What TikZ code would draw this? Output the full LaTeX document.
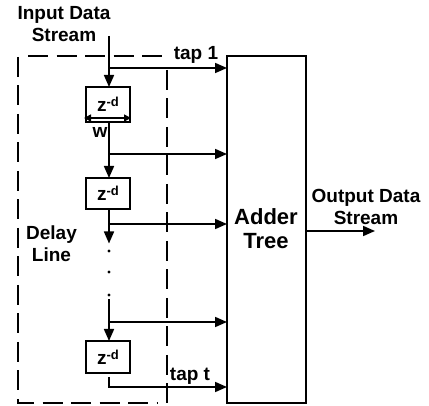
\documentclass[tikz,border=0pt]{standalone}
\usepackage{fontspec}
\setmainfont{Liberation Sans}
\usetikzlibrary{arrows.meta}
\begin{document}
\begin{tikzpicture}[x=1pt,y=-1pt,
  txt/.style={inner sep=0pt,font=\fontsize{19}{22}\selectfont\bfseries,align=center},
  big/.style={inner sep=0pt,font=\fontsize{22}{24}\selectfont\bfseries,align=center},
  zbox/.style={draw,line width=1.7pt,minimum width=44pt,inner sep=0pt,font=\fontsize{19}{19}\selectfont\bfseries},
  arr/.style={line width=1.7pt,-{Triangle[length=12pt,width=10pt]}},
  dashline/.style={line width=1.7pt,dash pattern=on 20pt off 8.5pt}]
\useasboundingbox (0,0) rectangle (429,406);
% dashed delay-line frame
\draw[dashline] (28,56) -- (167,56);
\draw[dashline] (18,57) -- (18,403) -- (158,403);
\draw[dashline] (167,70) -- (167,403);
% adder
\node[draw,line width=2pt,minimum width=79pt,minimum height=347pt,inner sep=0pt] (adder) at (266.5,229.5) {};
\node[big] (addertxt) at (266,229) {Adder\\Tree};
% delay boxes
\node[zbox,minimum height=35pt] (z1) at (108,104.5) {z\raisebox{5pt}{\fontsize{13}{13}\selectfont -d}};
\node[zbox,minimum height=31pt] (z2) at (108,193.5) {z\raisebox{5pt}{\fontsize{13}{13}\selectfont -d}};
\node[zbox,minimum height=32pt] (z3) at (108,357) {z\raisebox{5pt}{\fontsize{13}{13}\selectfont -d}};
% labels
\node[txt] (input) at (64,24) {Input Data\\Stream};
\node[txt] (tap1) at (196,55) {tap 1};
\node[txt] (tapt) at (190,376) {tap t};
\node[txt] (delay) at (51.5,243.5) {Delay\\Line};
\node[txt] (output) at (366,206.5) {Output Data\\Stream};
\node[txt] (w) at (100,132) {w};
% coordinates
\coordinate (in) at (109,36);
\coordinate (j1) at (109,68);
\coordinate (j2) at (109,154);
\coordinate (j3) at (109,224);
\coordinate (e3) at (109,243.5);
\coordinate (s4) at (109,299);
\coordinate (j4) at (109,322);
\coordinate (s5) at (109,377);
\coordinate (j5) at (109,387);
\coordinate (out) at (375,231);
\coordinate (wl) at (84,118);
\coordinate (wr) at (131,118);
% wires
\draw[arr] (in) -- (109,87);
\draw[arr] (j1) -- (227,68);
\draw[arr] (109,122) -- (109,178);
\draw[arr] (j2) -- (227,154);
\draw[arr] (109,209) -- (e3);
\draw[arr] (j3) -- (227,224);
\draw[arr] (s4) -- (109,341);
\draw[arr] (j4) -- (227,322);
\draw[arr] (s5) -- (j5) -- (227,387);
\draw[arr] (306,231) -- (out);
\draw[line width=1.5pt,{Triangle[length=7pt,width=7pt]}-{Triangle[length=7pt,width=7pt]}] (wl) -- (wr);
% dots
\fill (109,251) circle (1.7pt) (109,272) circle (1.7pt) (109,295) circle (1.7pt);
\end{tikzpicture}
\end{document}
